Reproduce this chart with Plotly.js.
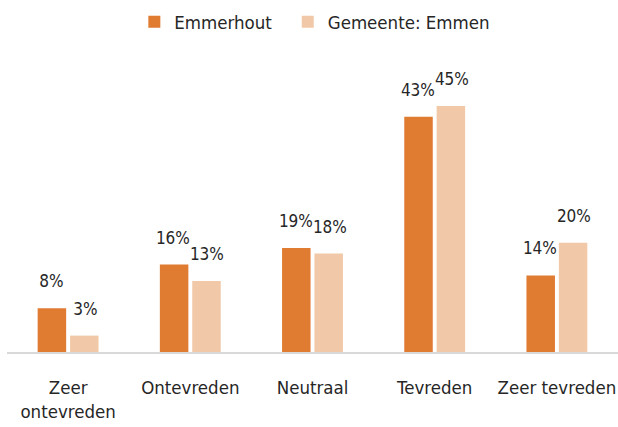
<!DOCTYPE html>
<html>
<head>
<meta charset="utf-8">
<script src="https://cdn.plot.ly/plotly-3.0.1.min.js"></script>
<style>html,body{margin:0;padding:0;background:#fff;}#chart{width:618px;height:427px;}
#chart svg text{font-stretch:condensed !important;}</style>
</head>
<body>
<div id="chart"></div>
<script>
const categories = ["Zeer<br>ontevreden", "Ontevreden", "Neutraal", "Tevreden", "Zeer tevreden"];
const seriesNames = ["Emmerhout", "Gemeente: Emmen"];
const emmerhout = [8, 16, 19, 43, 14];
const emmen = [3, 13, 18, 45, 20];

const FONT = "'DejaVu Sans', sans-serif";
const colors = ["#E07B32", "#F2C9A8"];
const series = [emmerhout, emmen];

const traces = series.map((vals, i) => ({
  type: "bar", name: seriesNames[i], x: categories, y: vals,
  marker: {color: colors[i]}, hoverinfo: "skip"
}));

const annotations = [];
series.forEach((vals, i) => {
  vals.forEach((v, j) => {
    annotations.push({
      x: categories[j], y: v, xref: "x", yref: "y",
      text: v + "%", showarrow: false, yanchor: "bottom",
      xshift: i === 0 ? -17 : 17, yshift: 15,
      font: {size: 17, family: FONT, color: "#262626"}
    });
  });
});

const layout = {
  width: 618, height: 427,
  margin: {l: 7, r: 0, t: 60, b: 75},
  paper_bgcolor: "#fff", plot_bgcolor: "#fff",
  font: {family: FONT, size: 17, color: "#262626"},
  barmode: "group", bargap: 0.47, bargroupgap: 0.12,
  showlegend: true,
  annotations: annotations,
  legend: {orientation: "h", x: 0.524, xanchor: "center", xref: "container",
           y: 0.948, yanchor: "middle", yref: "container",
           font: {size: 18.5, family: FONT, color: "#262626"}, traceorder: "normal"},
  xaxis: {showline: true, linecolor: "#d9d9d9", linewidth: 2, ticks: "", showgrid: false,
          tickfont: {size: 18.5, family: FONT, color: "#262626"}, ticklabelstandoff: 18},
  yaxis: {range: [0, 53.4], visible: false, showgrid: false, zeroline: false}
};

Plotly.newPlot("chart", traces, layout, {displayModeBar: false, staticPlot: true});
</script>
</body>
</html>
